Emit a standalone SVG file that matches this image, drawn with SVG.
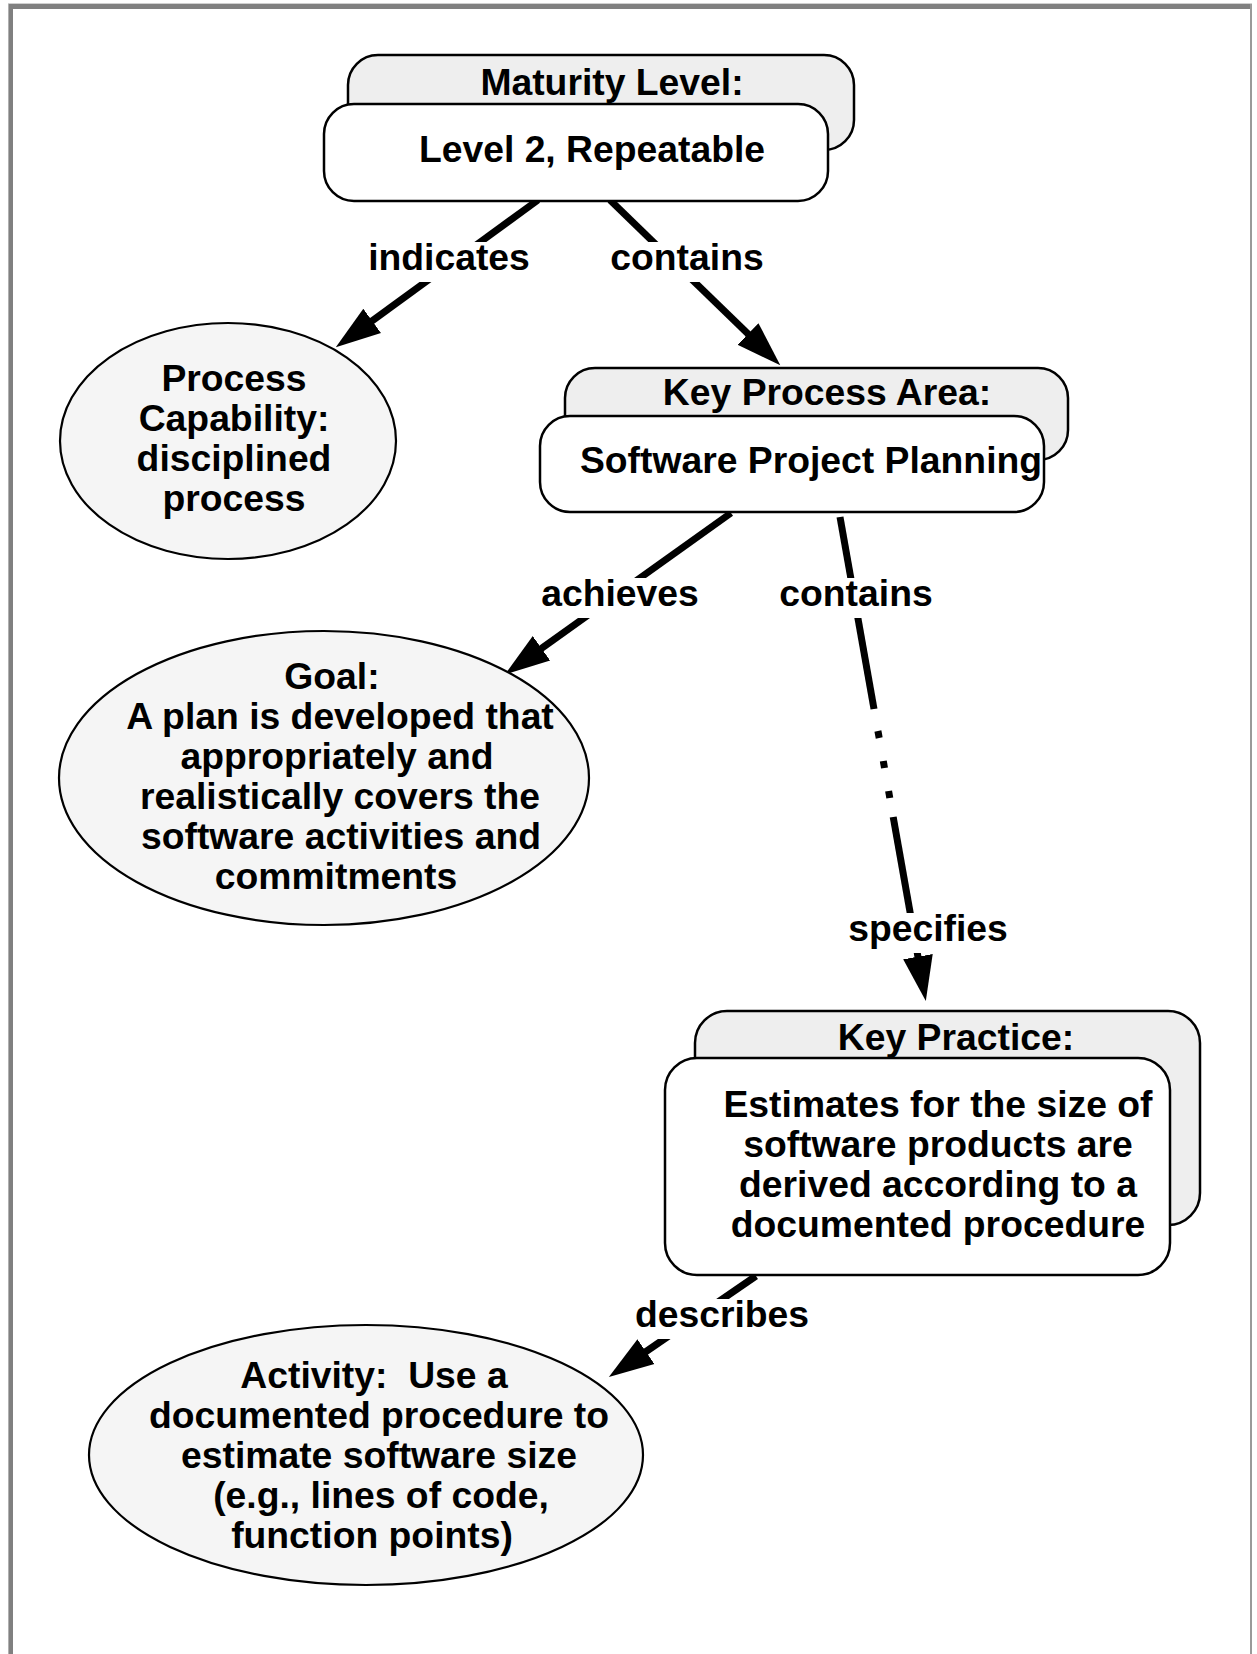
<svg xmlns="http://www.w3.org/2000/svg" width="1257" height="1654" viewBox="0 0 1257 1654">
  <defs>
    <marker id="arrow" markerUnits="userSpaceOnUse" markerWidth="46" markerHeight="32" viewBox="0 0 46 32" refX="6" refY="16" orient="auto">
      <path d="M0,1 L45,16 L0,31 Z" fill="#000"/>
    </marker>
    <style>
      text { font-family: "Liberation Sans", Arial, Helvetica, sans-serif; font-weight: bold; font-size: 37.3px; fill: #000; text-anchor: middle; }
      .back { fill: #eeeeee; stroke: #000; stroke-width: 2.5; }
      .front { fill: #ffffff; stroke: #000; stroke-width: 2.5; }
      .oval { fill: #f5f5f5; stroke: #000; stroke-width: 2.2; }
      .edge { stroke: #000; stroke-width: 7; fill: none; }
      .lblbg { fill: #ffffff; stroke: none; }
    </style>
  </defs>

  <rect x="0" y="0" width="1257" height="1654" fill="#ffffff"/>
  <g id="frame">
    <rect x="8" y="3" width="1244" height="1" fill="#d0d0d0"/>
    <rect x="8" y="4" width="1244" height="5" fill="#808080"/>
    <rect x="8" y="4" width="1" height="1650" fill="#b0b0b0"/>
    <rect x="9" y="4" width="4" height="1650" fill="#808080"/>
    <rect x="1250" y="4" width="2" height="1650" fill="#9a9a9a"/>
  </g>

  <g id="connectors">
    <line class="edge" x1="538" y1="200" x2="367.3" y2="324.4" marker-end="url(#arrow)"/>
    <line class="edge" x1="610" y1="200" x2="752.3" y2="338.1" marker-end="url(#arrow)"/>
    <line class="edge" x1="731" y1="513" x2="536.6" y2="651.8" marker-end="url(#arrow)"/>
    <line class="edge" x1="840" y1="517" x2="874" y2="709"/>
    <line class="edge" x1="877.9" y1="731" x2="879.2" y2="738"/>
    <line class="edge" x1="883.3" y1="761" x2="884.5" y2="768"/>
    <line class="edge" x1="888.6" y1="791" x2="889.8" y2="798"/>
    <line class="edge" x1="893.2" y1="817" x2="919" y2="962.6" marker-end="url(#arrow)"/>
    <line class="edge" x1="756" y1="1276" x2="641" y2="1355" marker-end="url(#arrow)"/>

    <rect class="lblbg" x="365" y="242" width="168" height="40"/>
    <text x="449" y="270">indicates</text>
    <rect class="lblbg" x="608" y="242" width="159" height="40"/>
    <text x="687" y="270">contains</text>
    <rect class="lblbg" x="538" y="578" width="164" height="40"/>
    <text x="620" y="606">achieves</text>
    <rect class="lblbg" x="775" y="578" width="161" height="40"/>
    <text x="856" y="606">contains</text>
    <rect class="lblbg" x="845" y="913" width="166" height="40"/>
    <text x="928" y="941">specifies</text>
    <rect class="lblbg" x="632" y="1299" width="181" height="40"/>
    <text x="722" y="1327">describes</text>
  </g>

  <g id="maturity-level">
    <rect class="back" x="348" y="55" width="506" height="95" rx="30" ry="30"/>
    <rect class="front" x="324" y="104" width="504" height="97" rx="30" ry="30"/>
    <text x="612" y="95">Maturity Level:</text>
    <text x="592" y="162">Level 2, Repeatable</text>
  </g>

  <g id="process-capability">
    <ellipse class="oval" cx="228" cy="441" rx="168" ry="118"/>
    <text x="234" y="391">Process</text>
    <text x="234" y="431">Capability:</text>
    <text x="234" y="471">disciplined</text>
    <text x="234" y="511">process</text>
  </g>

  <g id="key-process-area">
    <rect class="back" x="565" y="368" width="503" height="92" rx="30" ry="30"/>
    <rect class="front" x="540" y="416" width="504" height="96" rx="30" ry="30"/>
    <text x="827" y="405">Key Process Area:</text>
    <text x="811" y="473">Software Project Planning</text>
  </g>

  <g id="goal">
    <ellipse class="oval" cx="324" cy="778" rx="265" ry="147"/>
    <text x="332" y="689">Goal:</text>
    <text x="340" y="729">A plan is developed that</text>
    <text x="337" y="769">appropriately and</text>
    <text x="340" y="809">realistically covers the</text>
    <text x="341" y="849">software activities and</text>
    <text x="336" y="889">commitments</text>
  </g>

  <g id="key-practice">
    <rect class="back" x="695" y="1011" width="505" height="214" rx="32" ry="32"/>
    <rect class="front" x="665" y="1058" width="505" height="217" rx="32" ry="32"/>
    <text x="956" y="1050">Key Practice:</text>
    <text x="938" y="1117">Estimates for the size of</text>
    <text x="938" y="1157">software products are</text>
    <text x="938" y="1197">derived according to a</text>
    <text x="938" y="1237">documented procedure</text>
  </g>

  <g id="activity">
    <ellipse class="oval" cx="366" cy="1455" rx="277" ry="130"/>
    <text x="374" y="1388" xml:space="preserve">Activity:  Use a</text>
    <text x="379" y="1428">documented procedure to</text>
    <text x="379" y="1468">estimate software size</text>
    <text x="381" y="1508">(e.g., lines of code,</text>
    <text x="372" y="1548">function points)</text>
  </g>
</svg>
